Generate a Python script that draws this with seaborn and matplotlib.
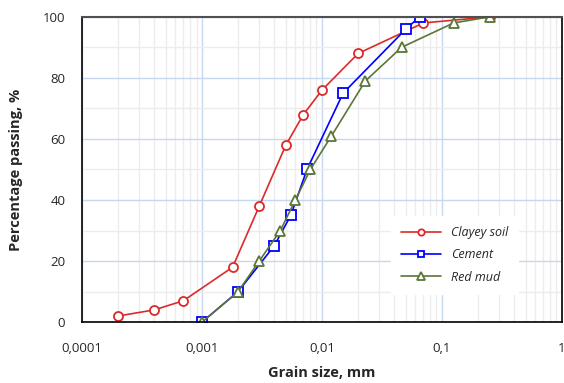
import numpy as np
import pandas as pd
import seaborn as sns
import matplotlib.pyplot as plt
from matplotlib.ticker import FixedLocator, FuncFormatter, LogLocator, NullFormatter

# datos
clay_size = [0.0002, 0.0004, 0.0007, 0.0018, 0.003, 0.005, 0.007, 0.01, 0.02, 0.07, 0.25]
clay_pass = [2, 4, 7, 18, 38, 58, 68, 76, 88, 98, 100]

cem_size = [0.001, 0.002, 0.004, 0.0055, 0.0075, 0.015, 0.05, 0.065]
cem_pass = [0, 10, 25, 35, 50, 75, 96, 100]

mud_size = [0.001, 0.002, 0.003, 0.0045, 0.006, 0.008, 0.012, 0.023, 0.046, 0.125, 0.25]
mud_pass = [0, 10, 20, 30, 40, 50, 61, 79, 90, 98, 100]

series = ["Clayey soil", "Cement", "Red mud"]
colores = {"Clayey soil": "#dc2a2a", "Cement": "#0000ff", "Red mud": "#5b7637"}
marcadores = {"Clayey soil": "o", "Cement": "s", "Red mud": "^"}
tamanos = {"Clayey soil": 6.5, "Cement": 7, "Red mud": 7.5}

x_ticks = [0.0001, 0.001, 0.01, 0.1, 1]
y_ticks = [0, 20, 40, 60, 80, 100]

df = pd.concat([
    pd.DataFrame({"size": clay_size, "pass": clay_pass, "Material": "Clayey soil"}),
    pd.DataFrame({"size": cem_size, "pass": cem_pass, "Material": "Cement"}),
    pd.DataFrame({"size": mud_size, "pass": mud_pass, "Material": "Red mud"}),
], ignore_index=True)

sns.set_style("white")
plt.rcParams["font.family"] = ["Open Sans", "DejaVu Sans"]

fig = plt.figure(figsize=(5.64, 3.83), dpi=100)
ax = fig.add_axes([0.1454, 0.159, 0.851, 0.797])

for s in series:
    d = df[df["Material"] == s]
    sns.lineplot(x=d["size"], y=d["pass"], ax=ax, color=colores[s], marker=marcadores[s],
                 markersize=tamanos[s], markerfacecolor="white", markeredgecolor=colores[s],
                 markeredgewidth=1.3, linewidth=1.2, sort=False, estimator=None, label=s)

ax.set_xscale("log")
ax.set_xlim(0.0001, 1)
ax.set_ylim(0, 100)

ax.xaxis.set_major_locator(FixedLocator(x_ticks))
ax.xaxis.set_major_formatter(FuncFormatter(lambda v, p: f"{v:g}".replace(".", ",")))
ax.xaxis.set_minor_locator(LogLocator(base=10, subs=np.arange(2, 10)))
ax.xaxis.set_minor_formatter(NullFormatter())
ax.yaxis.set_major_locator(FixedLocator(y_ticks))
ax.yaxis.set_minor_locator(FixedLocator([10, 30, 50, 70, 90]))

ax.grid(True, which="major", color="#c5d8f0", linewidth=1.0)
ax.grid(True, which="minor", color="#ececec", linewidth=1.0)
ax.set_axisbelow(True)

ax.tick_params(axis="x", which="both", length=0, labelsize=9.5, colors="#262626", pad=14)
ax.tick_params(axis="y", which="both", length=0, labelsize=9.5, colors="#262626", pad=12)
for lado in ["left", "bottom", "right"]:
    ax.spines[lado].set_color("black")
    ax.spines[lado].set_linewidth(1.2)
ax.spines["top"].set_color("#505050")
ax.spines["top"].set_linewidth(1.5)

ax.set_xlabel("Grain size, mm", fontsize=10.5, fontweight="bold", labelpad=8)
ax.set_ylabel("Percentage passing, %", fontsize=10.5, fontweight="bold", labelpad=14)

leg = ax.legend(loc="center left", bbox_to_anchor=(0.63, 0.22), frameon=True, fancybox=False,
                edgecolor="white", framealpha=1, prop={"style": "italic", "size": 9},
                handlelength=3.2, markerscale=0.7, borderpad=0.8, labelspacing=0.75)

fig.savefig("out.png", dpi=100)
